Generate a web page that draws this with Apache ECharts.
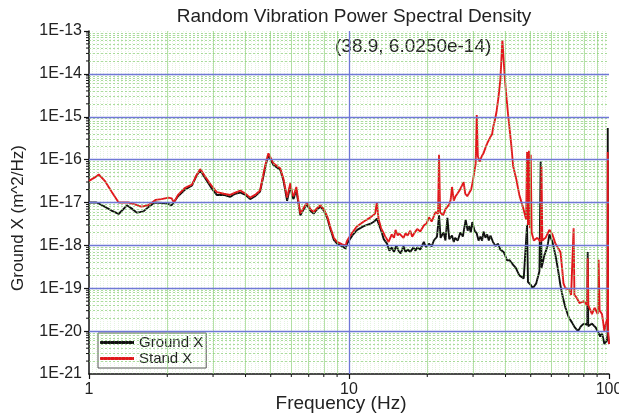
<!DOCTYPE html>
<html>
<head>
<meta charset="utf-8">
<script src="https://cdn.jsdelivr.net/npm/echarts@6/dist/echarts.min.js"></script>
<style>
html,body{margin:0;padding:0;background:#fff;}
#c{width:619px;height:418px;}
#err{position:absolute;left:0;top:60px;font:11px monospace;color:#c00;white-space:pre-wrap;width:600px;}
</style>
</head>
<body>
<div id="c"></div>
<div id="err"></div>
<script>
window.onerror = function(m, s, l, c, e){ document.getElementById('err').textContent += m + ' ' + (e && e.stack ? e.stack.slice(0,400) : '') + '\n'; };
const FONT = '"Liberation Sans", Arial, sans-serif';

const freqGround = [1.00,1.07,1.15,1.22,1.30,1.40,1.47,1.53,1.62,1.70,
1.79,1.91,2.00,2.08,2.20,2.34,2.49,2.60,2.68,2.80,
2.97,3.10,3.30,3.49,3.65,3.82,4.00,4.17,4.35,4.55,
4.70,4.82,4.90,5.00,5.12,5.30,5.44,5.60,5.78,5.95,
6.05,6.12,6.27,6.40,6.50,6.70,6.89,7.10,7.31,7.55,
7.77,8.00,8.25,8.50,8.74,9.00,9.42,9.70,9.84,10.3,
10.75,11.4,12.1,12.5,12.8,13.0,13.3,13.6,14.0,14.3,
14.6,14.9,15.2,15.5,15.8,16.2,16.5,16.8,17.2,17.7,
18.0,18.3,18.8,19.4,19.8,20.3,20.8,21.2,21.8,22.2,
22.5,23.1,23.5,23.9,24.3,24.9,25.3,25.6,26.2,26.8,
27.4,28.1,28.6,29.0,29.4,29.8,30.4,31.0,31.5,32.0,
32.5,32.9,33.5,34.0,34.5,35.0,35.8,36.6,37.4,38.2,
38.8,39.4,40.0,40.5,41.5,42.8,43.8,45.2,46.0,47.0,
48.4,48.8,50.0,50.9,52.5,54.0,54.6,55.0,55.4,56.5,
58.0,59.0,60.6,62.2,63.5,65.0,66.5,68.0,70.0,72.0,
74.0,76.0,78.0,80.0,82.5,82.8,83.2,86.0,89.0,92.5,
94.0,96.0,98.0,98.7,98.9,99.2,100];

const valGround = [1.0e-17,1.0e-17,8e-18,6.5e-18,5.4e-18,8.6e-18,7e-18,5.8e-18,6.2e-18,8e-18,
1.0e-17,9.7e-18,9.5e-18,8.6e-18,1.4e-17,2.0e-17,2.5e-17,4.4e-17,5.6e-17,3.7e-17,
2.1e-17,1.5e-17,1.5e-17,1.35e-17,1.6e-17,1.7e-17,1.5e-17,1.2e-17,1.4e-17,1.8e-17,
4.5e-17,9e-17,1.25e-16,1.0e-16,7.5e-17,6.5e-17,5.8e-17,3.2e-17,1.1e-17,2.5e-17,
1.4e-17,1.2e-17,2.0e-17,9e-18,5e-18,7e-18,9e-18,6.5e-18,5.5e-18,7e-18,
8e-18,6.5e-18,4.3e-18,2.3e-18,1.35e-18,1.1e-18,9.5e-19,8.5e-19,1.1e-18,1.7e-18,
2.3e-18,2.8e-18,3.2e-18,3.6e-18,4.2e-18,3.2e-18,2.2e-18,1.4e-18,1.1e-18,7.5e-19,
9e-19,7e-19,1.0e-18,7.5e-19,6.5e-19,9.5e-19,7e-19,8e-19,7e-19,9e-19,
7.5e-19,9e-19,8e-19,1.2e-18,9e-19,1.1e-18,9.5e-19,1.3e-18,1.6e-18,5.1e-18,
1.5e-18,2.0e-18,1.3e-18,4.4e-18,1.4e-18,1.7e-18,1.2e-18,1.5e-18,1.3e-18,2.0e-18,
1.6e-18,3.9e-18,2.2e-18,2.8e-18,2.0e-18,3.5e-18,2.2e-18,1.9e-18,1.3e-18,1.6e-18,
1.3e-18,2.1e-18,1.5e-18,1.8e-18,1.3e-18,1.7e-18,1.2e-18,9.6e-19,1.1e-18,8e-19,
8.5e-19,6.9e-19,5.5e-19,4.5e-19,4.5e-19,3.5e-19,3.0e-19,2.0e-19,2.2e-19,1.7e-19,
3.0e-18,1.4e-19,1.2e-19,1.0e-19,1.3e-19,2.5e-19,9e-17,3e-19,3.2e-19,6e-19,
9.6e-19,1.8e-18,1.2e-18,6e-19,3e-19,1.2e-19,6e-20,3.5e-20,2.1e-20,1.6e-20,
1.2e-20,1.0e-20,1.3e-20,1.5e-20,1.4e-20,7e-19,1.3e-20,1.5e-20,1.2e-20,7.5e-21,
9e-21,5e-21,6e-21,8e-21,5.5e-16,8e-21,5e-21];

const freqStand = [1.00,1.05,1.09,1.15,1.22,1.30,1.42,1.50,1.59,1.68,
1.74,1.80,1.90,2.02,2.08,2.12,2.20,2.34,2.49,2.60,
2.68,2.80,2.97,3.10,3.30,3.49,3.65,3.82,4.00,4.17,
4.35,4.55,4.70,4.82,4.90,5.00,5.12,5.30,5.44,5.60,
5.78,5.95,6.05,6.12,6.27,6.40,6.50,6.70,6.89,7.10,
7.31,7.55,7.77,8.00,8.25,8.50,8.74,9.00,9.42,9.70,
9.84,10.3,10.75,11.4,12.1,12.6,12.8,13.0,13.3,13.8,
14.2,14.6,14.9,15.1,15.4,15.6,16.2,16.5,16.8,17.2,
17.5,18.0,18.3,18.8,19.4,19.9,20.3,20.8,21.2,21.5,
22.0,22.2,22.4,23.0,23.5,23.9,24.3,24.6,24.9,25.3,
25.7,26.1,26.6,27.0,27.6,28.0,28.5,28.9,29.5,29.9,
30.3,30.7,31.0,31.3,31.8,32.4,32.9,33.5,34.0,34.5,
35.0,35.5,35.9,36.5,37.0,37.6,38.2,38.9,39.8,40.4,
41.0,42.0,42.8,44.0,45.2,46.9,48.0,48.4,48.8,49.2,
49.6,50.0,50.4,51.4,53.0,54.6,55.0,55.4,57.0,59.0,
60.6,62.2,63.1,65.1,66.0,66.8,68.0,70.0,71.5,73.1,
73.6,75.1,77.0,80.0,82.5,82.8,83.3,86.0,88.0,90.5,
91.2,92.0,94.0,96.0,97.5,98.7,98.9,99.2,100];

const valStand = [3.2e-17,3.8e-17,4.5e-17,3.2e-17,1.8e-17,1.0e-17,1.0e-17,9e-18,8e-18,8.5e-18,
9.7e-18,1.15e-17,1.2e-17,1.3e-17,1.25e-17,1.0e-17,1.5e-17,2.2e-17,2.6e-17,4.5e-17,
6.0e-17,4.0e-17,2.4e-17,1.75e-17,1.6e-17,1.5e-17,1.7e-17,1.9e-17,1.6e-17,1.3e-17,
1.5e-17,1.9e-17,5e-17,1.0e-16,1.4e-16,1.1e-16,8.2e-17,7.0e-17,6.3e-17,3.5e-17,
1.3e-17,2.8e-17,1.6e-17,1.4e-17,2.3e-17,1.0e-17,5.5e-18,7.5e-18,1.0e-17,7e-18,
6.0e-18,7.5e-18,8.6e-18,7e-18,4.7e-18,2.5e-18,1.5e-18,1.2e-18,1.05e-18,1.0e-18,
1.3e-18,2.0e-18,2.8e-18,3.6e-18,4.5e-18,5.5e-18,1.0e-17,4e-18,2.5e-18,1.6e-18,
1.2e-18,1.8e-18,1.5e-18,2.3e-18,1.7e-18,1.9e-18,1.5e-18,1.9e-18,1.7e-18,2.2e-18,
1.6e-18,2.1e-18,2.4e-18,2.1e-18,2.9e-18,3.3e-18,4.5e-18,3.6e-18,4.8e-18,6.0e-18,
5.5e-18,1.3e-16,6e-18,5.0e-18,7.0e-18,6.5e-18,9e-18,1.15e-17,2.3e-17,1.1e-17,
1.4e-17,1.6e-17,1.9e-17,2.0e-17,3.0e-17,1.6e-17,1.4e-17,1.3e-17,2.0e-17,3.0e-17,
5e-17,8e-17,1.1e-15,1.2e-16,9e-17,1.2e-16,1.4e-16,1.9e-16,2.4e-16,2.2e-16,
3.4e-16,3.9e-16,5.9e-16,9e-16,1.4e-15,3e-15,7.2e-15,6.025e-14,7.2e-15,2.5e-15,
1.0e-15,2.5e-16,7e-17,3.5e-17,1.5e-17,7e-18,4e-18,1.5e-16,3e-18,1.6e-16,
2.5e-18,1.3e-16,2e-18,1.3e-18,1.5e-18,1.2e-18,7e-17,1.3e-18,1.5e-18,2.3e-18,
1.8e-18,1.1e-18,9.6e-19,6.9e-19,3e-19,1.3e-19,1.0e-19,9.5e-20,7e-20,2.5e-18,
7e-20,6e-20,4.5e-20,5e-20,4e-20,5e-19,4e-20,2.5e-20,3.5e-20,2.5e-20,
4.6e-19,3e-20,2.5e-20,1e-20,1.6e-20,2e-20,1.5e-16,1e-20,5e-21];

const seriesNames = ['Ground X', 'Stand X'];
const titleText = 'Random Vibration Power Spectral Density';
const xName = 'Frequency (Hz)';
const yName = 'Ground X (m^2/Hz)';
const annotText = '(38.9, 6.0250e-14)';
const yTickLabel = v => '1E' + Math.round(Math.log10(v));

// gridline / minor tick positions (axis decoration, not data)
const X0 = 1, X1 = 100, Y0 = 1e-21, Y1 = 1e-13;
const xDecades = [1, 10];
const yDecades = [-21,-20,-19,-18,-17,-16,-15,-14];
const xMinor = [], xFine = [], yMinor = [];
xDecades.forEach(d => { for (let k = 2; k <= 9; k++) xMinor.push(k * d); });
for (let i = 1; i < 144; i++) if (i % 72 !== 0) xFine.push(Math.pow(10, i / 72));
yDecades.forEach(e => { for (let k = 2; k <= 9; k++) yMinor.push(k * Math.pow(10, e)); });

const BLUE = '#7079d6';
const gridLines = [];
const vLine = (v, style) => gridLines.push([{coord: [v, Y0], lineStyle: style}, {coord: [v, Y1]}]);
const hLine = (v, style) => gridLines.push([{coord: [X0, v], lineStyle: style}, {coord: [X1, v]}]);
xFine.forEach(v => vLine(v, {color: 'rgba(150,212,130,0.25)', width: 1, type: [1, 1]}));
xMinor.forEach(v => vLine(v, {color: 'rgba(150,212,130,0.7)', width: 1, type: 'solid'}));
yMinor.forEach(v => hLine(v, {color: 'rgba(135,205,115,0.7)', width: 1, type: [2, 2]}));
[-20,-19,-18,-17,-16,-15,-14].forEach(e => hLine(Math.pow(10, e), {color: BLUE, width: 1.3, type: 'solid'}));
vLine(10, {color: BLUE, width: 1.3, type: 'solid'});

const zip = (a, b) => a.map((x, i) => [x, b[i]]);

const baseGraphic = [
  {type: 'text', x: 354, y: 17, style: {text: titleText, font: '19px ' + FONT, fill: '#222', align: 'center', verticalAlign: 'middle'}},
  {type: 'text', x: 335, y: 47, style: {text: annotText, font: '19px ' + FONT, fill: '#222', verticalAlign: 'middle'}},
  {type: 'text', x: 341, y: 404, style: {text: xName, font: '19px ' + FONT, fill: '#222', align: 'center', verticalAlign: 'middle'}},
  {type: 'text', x: 18, y: 218, rotation: Math.PI / 2, style: {text: yName, font: '17px ' + FONT, fill: '#222', align: 'center', verticalAlign: 'middle'}}
];

const chart = echarts.init(document.getElementById('c'), null, {renderer: 'canvas'});
chart.setOption({
  animation: false,
  backgroundColor: '#fff',
  textStyle: {fontFamily: FONT},
  grid: {left: 89, top: 31, right: 10, bottom: 44, containLabel: false, outerBoundsMode: 'none'},
  xAxis: {type: 'log', logBase: 10, min: X0, max: X1,
     axisLine: {lineStyle: {color: '#111', width: 1.5}},
     axisTick: {length: 5, lineStyle: {color: '#111', width: 1.2}},
     axisLabel: {fontSize: 16, color: '#222', margin: 8, fontFamily: FONT, showMinLabel: true, showMaxLabel: true},
     splitLine: {show: false}},
  yAxis: {type: 'log', logBase: 10, min: Y0, max: Y1, position: 'left',
     axisLine: {lineStyle: {color: '#111', width: 1.5}},
     axisTick: {length: 5, lineStyle: {color: '#111', width: 1.2}},
     axisLabel: {fontSize: 16, color: '#222', margin: 7, fontFamily: FONT, formatter: yTickLabel, showMinLabel: true, showMaxLabel: true},
     splitLine: {show: false}},
  legend: {
    data: seriesNames, orient: 'vertical', left: 98, top: 333,
    padding: [2, 3, 2, 2], itemGap: 1, itemWidth: 34, itemHeight: 3, icon: 'rect',
    backgroundColor: '#fff', borderColor: '#555', borderWidth: 1, borderRadius: 0,
    textStyle: {fontSize: 15, color: '#222', fontFamily: FONT}
  },
  series: [
    {name: 'grid', type: 'line', data: [[1, 1e-30]], z: 1, silent: true, showSymbol: false,
     markLine: {silent: true, symbol: ['none', 'none'], label: {show: false}, animation: false, data: gridLines}},
    {name: seriesNames[0], type: 'line', data: zip(freqGround, valGround), showSymbol: false,
     lineStyle: {color: '#111', width: 1.9}, itemStyle: {color: '#111'}, z: 3},
    {name: seriesNames[1], type: 'line', data: zip(freqStand, valStand), showSymbol: false,
     lineStyle: {color: '#e3171c', width: 1.9}, itemStyle: {color: '#e3171c'}, z: 4}
  ],
  graphic: baseGraphic
});

// minor axis ticks and the bottom y label, positioned through the axes' own scales
const extra = [];
const yBottom = chart.convertToPixel({yAxisIndex: 0}, Y0);
const xLeft = chart.convertToPixel({xAxisIndex: 0}, X0);
xMinor.forEach(v => {
  const px = chart.convertToPixel({xAxisIndex: 0}, v);
  extra.push({type: 'line', silent: true, shape: {x1: px, y1: yBottom, x2: px, y2: yBottom + 3}, style: {stroke: '#111', lineWidth: 1}});
});
yMinor.forEach(v => {
  const py = chart.convertToPixel({yAxisIndex: 0}, v);
  extra.push({type: 'line', silent: true, shape: {x1: xLeft - 3, y1: py, x2: xLeft, y2: py}, style: {stroke: '#111', lineWidth: 1}});
});
extra.push({type: 'text', x: xLeft - 7, y: yBottom, style: {text: yTickLabel(Y0), font: '16px ' + FONT, fill: '#222', align: 'right', verticalAlign: 'middle'}});
chart.setOption({graphic: baseGraphic.concat(extra)});
</script>
</body>
</html>
